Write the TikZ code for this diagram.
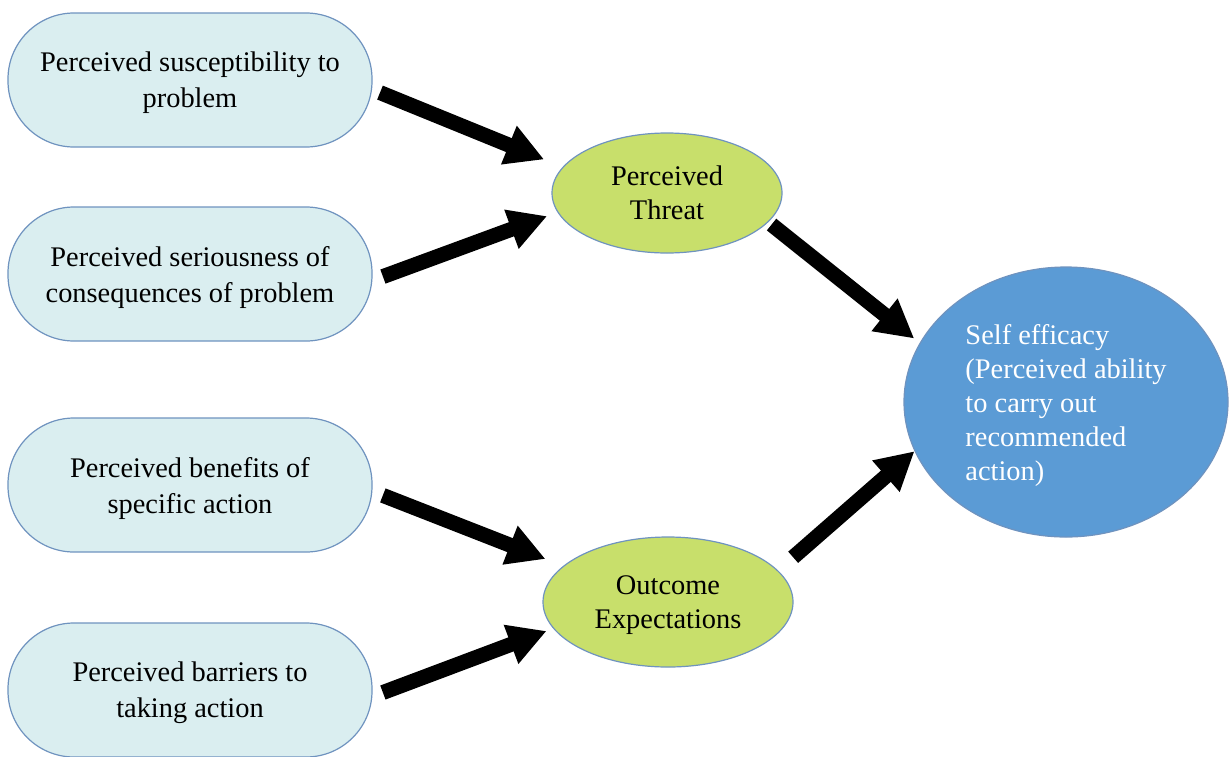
\documentclass[tikz,border=0pt]{standalone}
\usepackage{fontspec}
\setmainfont{Liberation Serif}
\usetikzlibrary{arrows.meta, shapes.geometric}

\definecolor{boxfill}{HTML}{DAEEF0}
\definecolor{boxline}{HTML}{6F93BF}
\definecolor{greenfill}{HTML}{C8DF6B}
\definecolor{bluefill}{HTML}{5B9BD5}

\begin{document}
\begin{tikzpicture}[x=0.5pt, y=-0.5pt,
    factor/.style={rectangle, rounded corners=33pt, draw=boxline, fill=boxfill, line width=0.6pt,
        minimum width=182pt, minimum height=67pt, inner sep=0pt, align=center, text depth=0pt,
        font=\fontsize{14.2}{18}\selectfont},
    middle/.style={ellipse, draw=boxline, fill=greenfill, line width=0.6pt, inner sep=0pt,
        align=center, text depth=0pt, font=\fontsize{14.2}{17}\selectfont},
    bigarrow/.style={line width=7.5pt, -{Triangle[length=19pt, width=19.5pt]}}]
            % Fixed frame, same proportions as the reference
            \path[use as bounding box] (0,0) rectangle (1229,756);

            \node[factor] (sus) at (190,80) {Perceived susceptibility to\\problem};
            \node[factor] (ser) at (190,274) {Perceived seriousness of\\consequences of problem};
            \node[factor] (ben) at (190,485) {Perceived benefits of\\specific action};
            \node[factor] (bar) at (190,690) {Perceived barriers to\\taking action};

            \node[middle, minimum width=115pt, minimum height=60pt] (threat) at (667,193) {Perceived\\Threat};
            \node[middle, minimum width=125pt, minimum height=65pt] (outcome) at (668,602) {Outcome\\Expectations};

            \node[ellipse, draw=boxline, fill=bluefill, line width=0.6pt, inner sep=0pt,
                minimum width=162pt, minimum height=135pt, align=left, text=white, text depth=0pt,
                font=\fontsize{14.2}{17}\selectfont] (self) at (1066,402)
                {Self efficacy\\(Perceived ability\\to carry out\\recommended\\action)};

            \draw[bigarrow, shorten <=4pt, shorten >=10pt] (sus.-3.6) -- (threat.166);
            \draw[bigarrow, shorten <=5.5pt, shorten >=5.5pt] (ser.-2) -- (threat.190);
            \draw[bigarrow, shorten <=5.5pt, shorten >=9.5pt] (ben.-2) -- (outcome.161);
            \draw[bigarrow, shorten <=5.5pt, shorten >=3.5pt] (bar.-2) -- (outcome.193);
            \draw[bigarrow, shorten <=2pt, shorten >=3.5pt] (threat.-16.5) -- (self.158);
            \draw[bigarrow, shorten <=10pt, shorten >=0pt] (outcome.16) -- (self.198);
        \end{tikzpicture}
\end{document}
